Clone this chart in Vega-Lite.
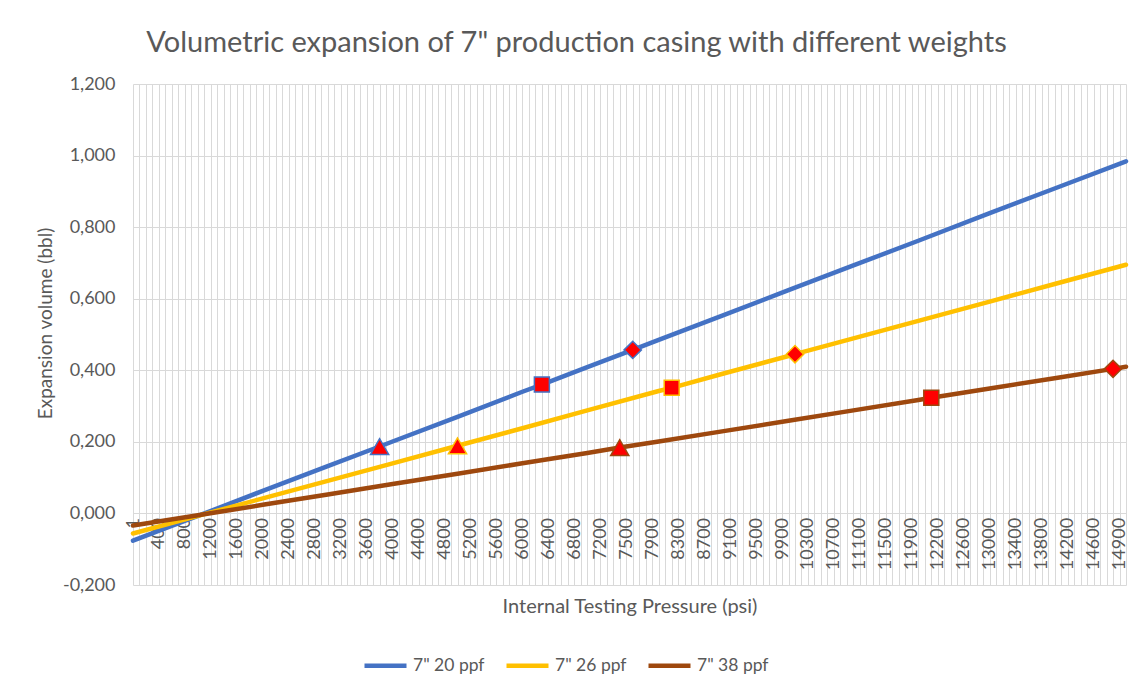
{
  "$schema": "https://vega.github.io/schema/vega-lite/v6.json",
  "width": 993,
  "height": 501,
  "autosize": {"type": "none"},
  "padding": {"left": 133, "top": 84, "right": 18, "bottom": 111},
  "background": "white",
  "title": {"text": "Volumetric expansion of 7\" production casing with different weights", "anchor": "middle", "dx": -53, "offset": 17, "fontSize": 29, "font": "Lato", "fontWeight": "normal", "color": "#595959"},
  "datasets": {
    "lines": [
      {"p":1,"s":"7\" 20 ppf","v":-0.076},{"p":1000,"s":"7\" 20 ppf","v":-0.007},{"p":2000,"s":"7\" 20 ppf","v":0.063},{"p":3000,"s":"7\" 20 ppf","v":0.132},{"p":3800,"s":"7\" 20 ppf","v":0.187},{"p":4000,"s":"7\" 20 ppf","v":0.201},{"p":5000,"s":"7\" 20 ppf","v":0.270},{"p":6000,"s":"7\" 20 ppf","v":0.340},{"p":6300,"s":"7\" 20 ppf","v":0.360},{"p":7000,"s":"7\" 20 ppf","v":0.409},{"p":7600,"s":"7\" 20 ppf","v":0.457},{"p":8000,"s":"7\" 20 ppf","v":0.485},{"p":9000,"s":"7\" 20 ppf","v":0.554},{"p":10000,"s":"7\" 20 ppf","v":0.624},{"p":11000,"s":"7\" 20 ppf","v":0.693},{"p":12000,"s":"7\" 20 ppf","v":0.762},{"p":13000,"s":"7\" 20 ppf","v":0.839},{"p":14000,"s":"7\" 20 ppf","v":0.908},{"p":15000,"s":"7\" 20 ppf","v":0.984},
      {"p":1,"s":"7\" 26 ppf","v":-0.056},{"p":1000,"s":"7\" 26 ppf","v":-0.007},{"p":2000,"s":"7\" 26 ppf","v":0.042},{"p":3000,"s":"7\" 26 ppf","v":0.091},{"p":4000,"s":"7\" 26 ppf","v":0.140},{"p":5000,"s":"7\" 26 ppf","v":0.189},{"p":6000,"s":"7\" 26 ppf","v":0.238},{"p":7000,"s":"7\" 26 ppf","v":0.288},{"p":8000,"s":"7\" 26 ppf","v":0.342},{"p":8200,"s":"7\" 26 ppf","v":0.351},{"p":9000,"s":"7\" 26 ppf","v":0.391},{"p":10000,"s":"7\" 26 ppf","v":0.440},{"p":10100,"s":"7\" 26 ppf","v":0.445},{"p":11000,"s":"7\" 26 ppf","v":0.489},{"p":12000,"s":"7\" 26 ppf","v":0.538},{"p":13000,"s":"7\" 26 ppf","v":0.592},{"p":14000,"s":"7\" 26 ppf","v":0.641},{"p":15000,"s":"7\" 26 ppf","v":0.695},
      {"p":1,"s":"7\" 38 ppf","v":-0.034},{"p":1000,"s":"7\" 38 ppf","v":-0.005},{"p":2000,"s":"7\" 38 ppf","v":0.024},{"p":3000,"s":"7\" 38 ppf","v":0.053},{"p":4000,"s":"7\" 38 ppf","v":0.082},{"p":5000,"s":"7\" 38 ppf","v":0.111},{"p":6000,"s":"7\" 38 ppf","v":0.140},{"p":7000,"s":"7\" 38 ppf","v":0.169},{"p":7450,"s":"7\" 38 ppf","v":0.184},{"p":8000,"s":"7\" 38 ppf","v":0.201},{"p":9000,"s":"7\" 38 ppf","v":0.230},{"p":10000,"s":"7\" 38 ppf","v":0.259},{"p":11000,"s":"7\" 38 ppf","v":0.288},{"p":12000,"s":"7\" 38 ppf","v":0.317},{"p":12150,"s":"7\" 38 ppf","v":0.323},{"p":13000,"s":"7\" 38 ppf","v":0.349},{"p":14000,"s":"7\" 38 ppf","v":0.378},{"p":14850,"s":"7\" 38 ppf","v":0.404},{"p":15000,"s":"7\" 38 ppf","v":0.410}
    ],
    "marks": [
      {"p":3800,"s":"7\" 20 ppf","v":0.187,"m":"triangle"},
      {"p":6300,"s":"7\" 20 ppf","v":0.360,"m":"square"},
      {"p":7600,"s":"7\" 20 ppf","v":0.457,"m":"diamond"},
      {"p":5000,"s":"7\" 26 ppf","v":0.189,"m":"triangle"},
      {"p":8200,"s":"7\" 26 ppf","v":0.351,"m":"square"},
      {"p":10100,"s":"7\" 26 ppf","v":0.445,"m":"diamond"},
      {"p":7450,"s":"7\" 38 ppf","v":0.184,"m":"triangle"},
      {"p":12150,"s":"7\" 38 ppf","v":0.323,"m":"square"},
      {"p":14850,"s":"7\" 38 ppf","v":0.404,"m":"diamond"}
    ]
  },
  "encoding": {
    "x": {
      "field": "p", "type": "ordinal",
      "scale": {"type": "point", "padding": 0, "domain": [1,100,200,300,400,500,600,700,800,900,1000,1100,1200,1300,1400,1500,1600,1700,1800,1900,2000,2100,2200,2300,2400,2500,2600,2700,2800,2900,3000,3100,3200,3300,3400,3500,3600,3700,3800,3900,4000,4100,4200,4300,4400,4500,4600,4700,4800,4900,5000,5100,5200,5300,5400,5500,5600,5700,5800,5900,6000,6100,6200,6300,6400,6500,6600,6700,6800,6900,7000,7100,7200,7300,7400,7450,7500,7600,7700,7800,7900,8000,8100,8200,8300,8400,8500,8600,8700,8800,8900,9000,9100,9200,9300,9400,9500,9600,9700,9800,9900,10000,10100,10200,10300,10400,10500,10600,10700,10800,10900,11000,11100,11200,11300,11400,11500,11600,11700,11800,11900,12000,12100,12150,12200,12300,12400,12500,12600,12700,12800,12900,13000,13100,13200,13300,13400,13500,13600,13700,13800,13900,14000,14100,14200,14300,14400,14500,14600,14700,14800,14850,14900,15000]},
      "axis": {
        "title": "Internal Testing Pressure (psi)",
        "labelExpr": "indexof([1,400,800,1200,1600,2000,2400,2800,3200,3600,4000,4400,4800,5200,5600,6000,6400,6800,7200,7500,7900,8300,8700,9100,9500,9900,10300,10700,11100,11500,11900,12200,12600,13000,13400,13800,14200,14600,14900], datum.value) >= 0 ? datum.label : ''",
        "labelAngle": -90,
        "labelOverlap": false,
        "labelPadding": 4,
        "labelFontSize": 18,
        "offset": -71.57,
        "ticks": false,
        "domain": false,
        "grid": true,
        "titleY": 92.6,
        "titleFontSize": 20,
        "titleBaseline": "middle"
      }
    },
    "y": {
      "field": "v", "type": "quantitative",
      "scale": {"domain": [-0.2, 1.2], "nice": false, "zero": false},
      "axis": {
        "title": "Expansion volume (bbl)",
        "values": [-0.2, 0, 0.2, 0.4, 0.6, 0.8, 1.0, 1.2],
        "labelExpr": "datum.value < -0.1 ? '-0,200' : replace(format(datum.value, '.3f'), '.', ',')",
        "labelPadding": 18,
        "labelFontSize": 18,
        "ticks": false,
        "domain": false,
        "grid": true,
        "titleX": -88,
        "titleY": 239,
        "titleFontSize": 19,
        "titleBaseline": "middle"
      }
    }
  },
  "layer": [
    {
      "data": {"name": "lines"},
      "mark": {"type": "line", "strokeWidth": 4.5, "strokeCap": "round", "strokeJoin": "round"},
      "encoding": {
        "color": {
          "field": "s", "type": "nominal",
          "scale": {"domain": ["7\" 20 ppf", "7\" 26 ppf", "7\" 38 ppf"], "range": ["#4472C4", "#FFC000", "#9E480E"]},
          "legend": {"title": null, "orient": "none", "direction": "horizontal", "legendX": 229, "legendY": 558, "symbolType": "stroke", "symbolSize": 1764, "symbolStrokeWidth": 4.5, "labelFontSize": 17.5, "labelOffset": 4, "columnPadding": 12, "padding": 0}
        }
      }
    },
    {
      "data": {"name": "marks"},
      "mark": {"type": "point", "filled": true, "fill": "#FF0000", "strokeWidth": 1.5, "opacity": 1},
      "encoding": {
        "shape": {"field": "m", "type": "nominal", "scale": {"domain": ["triangle", "square", "diamond"], "range": ["triangle-up", "square", "diamond"]}, "legend": null},
        "size": {"field": "m", "type": "nominal", "scale": {"type": "ordinal", "domain": ["triangle", "square", "diamond"], "range": [330, 225, 300]}, "legend": null},
        "stroke": {"field": "s", "type": "nominal", "scale": {"domain": ["7\" 20 ppf", "7\" 26 ppf", "7\" 38 ppf"], "range": ["#4472C4", "#FFC000", "#9E480E"]}, "legend": null}
      }
    }
  ],
  "config": {
    "font": "Lato",
    "view": {"stroke": null},
    "axis": {"labelColor": "#595959", "titleColor": "#595959", "titleFont": "Lato", "labelFont": "Lato", "titleFontWeight": "normal", "gridColor": "#D9D9D9", "gridWidth": 1},
    "legend": {"labelColor": "#595959", "labelFont": "Lato"}
  }
}
